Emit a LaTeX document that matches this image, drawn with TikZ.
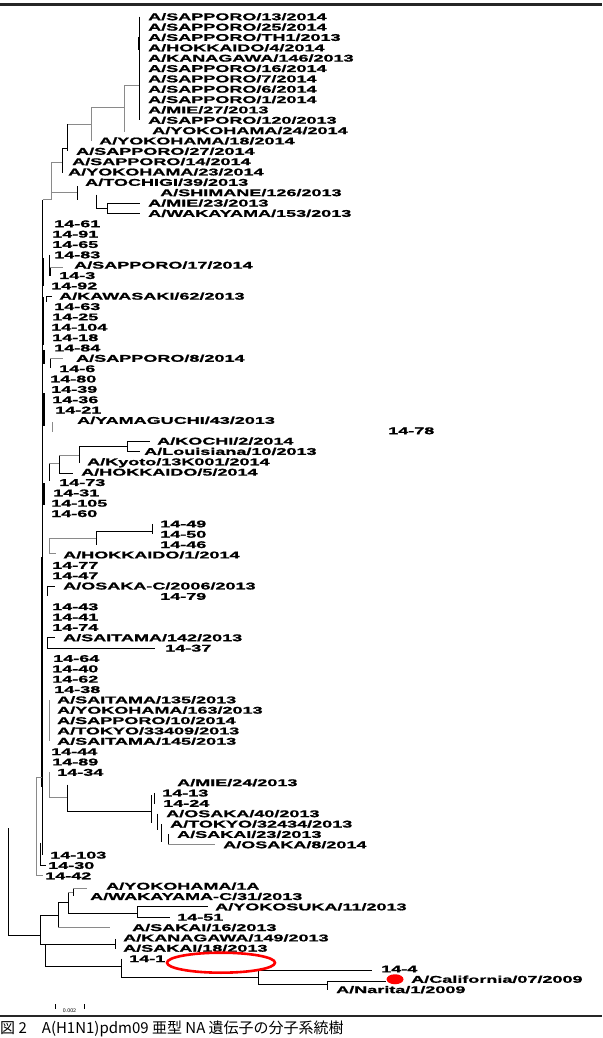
\documentclass[tikz,border=0pt]{standalone}
\usepackage{fontspec}
\newfontfamily\lfont{Liberation Sans}[FakeStretch=1.84, BoldFeatures={FakeBold=1.3}]
\newfontfamily\cjk{Noto Sans CJK JP}
\definecolor{lg}{HTML}{8A8A8A}
\begin{document}
\begin{tikzpicture}[x=1pt,y=-1pt,
  leaf/.style={anchor=west, inner sep=0pt, font=\lfont\bfseries\fontsize{9.8}{10}\selectfont, text height=7pt, text depth=0pt},
  br/.style={line width=0.8pt, black},
  gbr/.style={line width=0.8pt, lg},
  thk/.style={line width=2pt, black},
]
\useasboundingbox (0,0) rectangle (602,1038);
\fill[white] (0,0) rectangle (602,1038);
% frame lines
\fill[black!85] (0,3.2) rectangle (602,6.4);
\fill[black!85] (0,1014.8) rectangle (602,1017.2);
\begin{scope}[yshift=-16.7pt, y=-10.35pt]
% leaves
\node[leaf] (n0) at (148,0) {A/SAPPORO/13/2014};
\node[leaf] (n1) at (148,1) {A/SAPPORO/25/2014};
\node[leaf] (n2) at (148,2) {A/SAPPORO/TH1/2013};
\node[leaf] (n3) at (148,3) {A/HOKKAIDO/4/2014};
\node[leaf] (n4) at (148,4) {A/KANAGAWA/146/2013};
\node[leaf] (n5) at (148,5) {A/SAPPORO/16/2014};
\node[leaf] (n6) at (148,6) {A/SAPPORO/7/2014};
\node[leaf] (n7) at (148,7) {A/SAPPORO/6/2014};
\node[leaf] (n8) at (148,8) {A/SAPPORO/1/2014};
\node[leaf] (n9) at (148,9) {A/MIE/27/2013};
\node[leaf] (n10) at (148,10) {A/SAPPORO/120/2013};
\node[leaf] (n11) at (152,11) {A/YOKOHAMA/24/2014};
\node[leaf] (n12) at (99,12) {A/YOKOHAMA/18/2014};
\node[leaf] (n13) at (76,13) {A/SAPPORO/27/2014};
\node[leaf] (n14) at (72,14) {A/SAPPORO/14/2014};
\node[leaf] (n15) at (68,15) {A/YOKOHAMA/23/2014};
\node[leaf] (n16) at (85,16) {A/TOCHIGI/39/2013};
\node[leaf] (n17) at (160,17) {A/SHIMANE/126/2013};
\node[leaf] (n18) at (148,18) {A/MIE/23/2013};
\node[leaf] (n19) at (148,19) {A/WAKAYAMA/153/2013};
\node[leaf] (n20) at (54,20) {14-61};
\node[leaf] (n21) at (52,21) {14-91};
\node[leaf] (n22) at (52,22) {14-65};
\node[leaf] (n23) at (54,23) {14-83};
\node[leaf] (n24) at (74,24) {A/SAPPORO/17/2014};
\node[leaf] (n25) at (59,25) {14-3};
\node[leaf] (n26) at (51,26) {14-92};
\node[leaf] (n27) at (59,27) {A/KAWASAKI/62/2013};
\node[leaf] (n28) at (54,28) {14-63};
\node[leaf] (n29) at (52,29) {14-25};
\node[leaf] (n30) at (51,30) {14-104};
\node[leaf] (n31) at (52,31) {14-18};
\node[leaf] (n32) at (54,32) {14-84};
\node[leaf] (n33) at (76,33) {A/SAPPORO/8/2014};
\node[leaf] (n34) at (59,34) {14-6};
\node[leaf] (n35) at (50,35) {14-80};
\node[leaf] (n36) at (51,36) {14-39};
\node[leaf] (n37) at (52,37) {14-36};
\node[leaf] (n38) at (55,38) {14-21};
\node[leaf] (n39) at (77,39) {A/YAMAGUCHI/43/2013};
\node[leaf] (n40) at (388,40) {14-78};
\node[leaf] (n41) at (157,41) {A/KOCHI/2/2014};
\node[leaf] (n42) at (144,42) {A/Louisiana/10/2013};
\node[leaf] (n43) at (87,43) {A/Kyoto/13K001/2014};
\node[leaf] (n44) at (81,44) {A/HOKKAIDO/5/2014};
\node[leaf] (n45) at (59,45) {14-73};
\node[leaf] (n46) at (53,46) {14-31};
\node[leaf] (n47) at (51,47) {14-105};
\node[leaf] (n48) at (51,48) {14-60};
\node[leaf] (n49) at (160,49) {14-49};
\node[leaf] (n50) at (160,50) {14-50};
\node[leaf] (n51) at (160,51) {14-46};
\node[leaf] (n52) at (63,52) {A/HOKKAIDO/1/2014};
\node[leaf] (n53) at (52,53) {14-77};
\node[leaf] (n54) at (52,54) {14-47};
\node[leaf] (n55) at (63,55) {A/OSAKA-C/2006/2013};
\node[leaf] (n56) at (160,56) {14-79};
\node[leaf] (n57) at (52,57) {14-43};
\node[leaf] (n58) at (52,58) {14-41};
\node[leaf] (n59) at (52,59) {14-74};
\node[leaf] (n60) at (63,60) {A/SAITAMA/142/2013};
\node[leaf] (n61) at (165,61) {14-37};
\node[leaf] (n62) at (53,62) {14-64};
\node[leaf] (n63) at (52,63) {14-40};
\node[leaf] (n64) at (52,64) {14-62};
\node[leaf] (n65) at (54,65) {14-38};
\node[leaf] (n66) at (57,66) {A/SAITAMA/135/2013};
\node[leaf] (n67) at (57,67) {A/YOKOHAMA/163/2013};
\node[leaf] (n68) at (57,68) {A/SAPPORO/10/2014};
\node[leaf] (n69) at (57,69) {A/TOKYO/33409/2013};
\node[leaf] (n70) at (57,70) {A/SAITAMA/145/2013};
\node[leaf] (n71) at (51,71) {14-44};
\node[leaf] (n72) at (52,72) {14-89};
\node[leaf] (n73) at (57,73) {14-34};
\node[leaf] (n74) at (177,74) {A/MIE/24/2013};
\node[leaf] (n75) at (162,75) {14-13};
\node[leaf] (n76) at (163,76) {14-24};
\node[leaf] (n77) at (166,77) {A/OSAKA/40/2013};
\node[leaf] (n78) at (170,78) {A/TOKYO/32434/2013};
\node[leaf] (n79) at (177,79) {A/SAKAI/23/2013};
\node[leaf] (n80) at (223,80) {A/OSAKA/8/2014};
\node[leaf] (n81) at (50,81) {14-103};
\node[leaf] (n82) at (48,82) {14-30};
\node[leaf] (n83) at (45,83) {14-42};
\node[leaf] (n84) at (106,84) {A/YOKOHAMA/1A};
\node[leaf] (n85) at (90,85) {A/WAKAYAMA-C/31/2013};
\node[leaf] (n86) at (215,86) {A/YOKOSUKA/11/2013};
\node[leaf] (n87) at (177,87) {14-51};
\node[leaf] (n88) at (132,88) {A/SAKAI/16/2013};
\node[leaf] (n89) at (123,89) {A/KANAGAWA/149/2013};
\node[leaf] (n90) at (123,90) {A/SAKAI/18/2013};
\node[leaf] (n91) at (129,91) {14-1};
\node[leaf] (n92) at (381,92) {14-4};
\node[leaf] (n93) at (411,93) {A/California/07/2009};
\node[leaf] (n94) at (336,94) {A/Narita/1/2009};
% top clade
\draw[br] (139,0) -- (139,10);
\draw[line width=1.6pt] (139,2) -- (139,3.2);
\draw[gbr] (124,6.6) -- (139,6.6);
\draw[gbr] (124,6.6) -- (124,11.1);
\draw[gbr] (91,8.8) -- (124,8.8);
\draw[gbr] (91,8.8) -- (91,12);
\draw[gbr] (67,10.4) -- (91,10.4);
\draw[br] (67,10.4) -- (67,13);
\draw[br] (62,12.7) -- (67,12.7);
\draw[br] (62,12.7) -- (62,15.1);
\draw[gbr] (51,14.1) -- (62,14.1);
\draw[gbr] (51,14.1) -- (51,17.7);
\draw[gbr] (51,17) -- (77,17);
\draw[br] (77,16.4) -- (77,17.7);
\draw[br] (96,17.2) -- (96,18.5) -- (107,18.5);
\draw[br] (107,18) -- (107,19);
\draw[br] (107,18) -- (140,18);
\draw[br] (107,19) -- (140,19);
\draw[gbr] (42.5,17.7) -- (51,17.7);
% main backbone
\draw[br] (42.5,17.7) -- (42.5,81);
\draw[thk] (42.5,23.3) -- (42.5,26);
\draw[thk] (42.5,27.1) -- (42.5,31.7);
\draw[thk] (43.5,32.2) -- (43.5,33.6);
\draw[thk] (43.5,36.4) -- (43.5,39.5);
\draw[thk] (43.5,45.1) -- (43.5,47.2);
\draw[thk] (42,52.2) -- (42,74.4);
% small clades on backbone
\draw[br] (49,23) -- (49,25.1);
\draw[br] (50,24.25) -- (50,25.1);
\draw[gbr] (50,24.25) -- (63,24.25);
\draw[br] (46,27) -- (46,27.6);
\draw[br] (46,27) -- (52,27);
\draw[br] (50,33) -- (50,33.9);
\draw[gbr] (50,33) -- (63,33);
\draw[gbr] (52,39.2) -- (52,40.1);
% Kochi clade
\draw[br] (127,41) -- (127,42);
\draw[br] (127,41) -- (150,41);
\draw[br] (127,42) -- (140,42);
\draw[br] (79,41.5) -- (127,41.5);
\draw[br] (79,41.5) -- (79,43.1);
\draw[gbr] (59,42.4) -- (79,42.4);
\draw[br] (59,42.4) -- (59,44.1) -- (73,44.1);
\draw[gbr] (49,43.2) -- (59,43.2);
\draw[br] (49,43.2) -- (49,44.9);
% 14-49 clade
\draw[br] (152,49) -- (152,50);
\draw[br] (96,49.7) -- (152,49.7);
\draw[br] (96,49.7) -- (96,51);
\draw[gbr] (49,50.4) -- (96,50.4);
\draw[gbr] (49,50.4) -- (49,51.9) -- (56,51.9);
% Osaka-C, Saitama/142
\draw[br] (47,55) -- (47,56);
\draw[br] (47,55) -- (55,55);
\draw[br] (47,60) -- (47,61);
\draw[br] (47,60) -- (55,60);
\draw[br] (47,61) -- (155,61);
\draw[gbr] (49,66) -- (49,70);
% 14-34 clade
\draw[gbr] (49,73) -- (49,75.4) -- (67,75.4);
\draw[br] (67,74.2) -- (67,76.8) -- (151,76.8);
\draw[br] (151,75.2) -- (151,77.9);
\draw[br] (154,75) -- (154,76.1);
\draw[br] (157,77) -- (157,78.6);
\draw[br] (161,78) -- (161,79.7);
\draw[br] (168,79) -- (168,80);
\draw[gbr] (168,80) -- (215,80);
% bottom of backbone
\draw[br] (40,79.8) -- (40,82) -- (46,82);
\draw[gbr] (36,73.5) -- (42,73.5);
\draw[gbr] (36,73.5) -- (36,83) -- (43,83);
% root
\draw[br] (8,78.4) -- (8,88.8) -- (40,88.8);
% basal clades
\draw[br] (40,86.8) -- (40,89.6);
\draw[br] (40,86.8) -- (58,86.8);
\draw[br] (58,85.6) -- (58,88);
\draw[gbr] (58,88) -- (110,88);
\draw[br] (58,85.6) -- (68,85.6);
\draw[br] (68,84.6) -- (68,86.6) -- (137,86.6);
\draw[br] (137,86) -- (137,87);
\draw[br] (137,86) -- (208,86);
\draw[br] (137,87) -- (170,87);
\draw[gbr] (68,84.6) -- (73,84.6);
\draw[br] (73,84.2) -- (73,85);
\draw[gbr] (73,84.2) -- (87,84.2);
\draw[br] (40,89.6) -- (115,89.6);
\draw[br] (115,89.1) -- (115,90.1);
\draw[br] (45,89.6) -- (45,91.8) -- (121,91.8);
\draw[br] (121,91) -- (121,92.8) -- (258,92.8);
\draw[br] (258,92.1) -- (258,93.5);
\draw[br] (258,92.1) -- (372,92.1);
\draw[br] (258,93.5) -- (327,93.5);
\draw[br] (327,93.2) -- (327,94);
\draw[br] (327,93.2) -- (386,93.2);
% red marks
\draw[red, line width=2.6pt] (221,91.4) ellipse [x radius=54pt, y radius=10pt];
\fill[red] (395,93) ellipse [x radius=8.5pt, y radius=5pt];
\end{scope}
% scale bar
\draw[line width=0.6pt] (55,1004) -- (55,1009);
\draw[line width=0.6pt] (84,1004) -- (84,1009);
\node[inner sep=0pt, font=\sffamily\fontsize{5.5}{6}\selectfont] (sc) at (69.5,1010.5) {0.002};
% caption
\node[anchor=west, inner sep=0pt, font=\cjk\fontsize{15}{15}\selectfont] (cap) at (0,1029) {図 2　A(H1N1)pdm09 亜型 NA 遺伝子の分子系統樹};
\end{tikzpicture}
\end{document}
